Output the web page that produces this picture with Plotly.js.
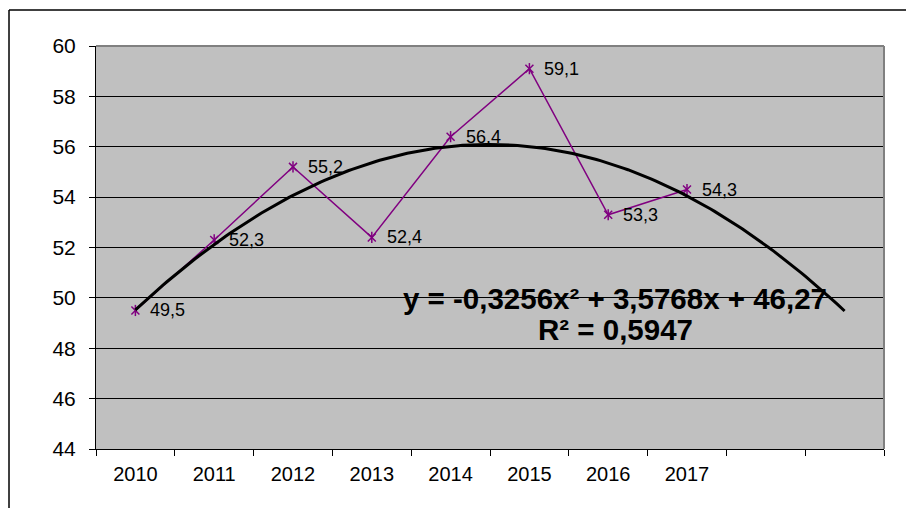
<!DOCTYPE html>
<html><head><meta charset="utf-8">
<script src="https://cdn.plot.ly/plotly-3.0.1.min.js"></script>
<style>html,body{margin:0;padding:0;background:#fff}#chart{width:906px;height:508px}</style>
</head><body><div id="chart"></div>
<script>
const years = ['2010','2011','2012','2013','2014','2015','2016','2017'];
const values = [49.5, 52.3, 55.2, 52.4, 56.4, 59.1, 53.3, 54.3];
const labels = ['49,5','52,3','55,2','52,4','56,4','59,1','53,3','54,3'];
// polynomial trendline coefficients shown on the chart (a x^2 + b x + c), forecast 2 periods forward
const trendCoef = [-0.3256, 3.5768, 46.27];
const forwardPeriods = 2;
const equationLine = 'y = -0,3256x² + 3,5768x + 46,27';
const r2Line = 'R² = 0,5947';

const FONT = 'Liberation Sans, Arial';
const xIdx = years.map((_, i) => i + 1);
const nCat = years.length + forwardPeriods;
const tx = [], ty = [];
for (let k = 0; k <= 180; k++) {
  const x = 1 + (nCat - 1) * k / 180;
  tx.push(x);
  ty.push(trendCoef[0]*x*x + trendCoef[1]*x + trendCoef[2]);
}
const boundaries = [];
for (let i = 0; i <= nCat; i++) boundaries.push(i + 0.5);

const data = [
  {x: xIdx, y: values, type: 'scatter', mode: 'lines+markers',
   line: {color: '#800080', width: 1.5},
   marker: {symbol: 'x-thin-open', size: 8, color: '#800080', line: {color: '#800080', width: 1.5}},
   cliponaxis: false, hoverinfo: 'skip'},
  {x: xIdx, y: values, type: 'scatter', mode: 'markers',
   marker: {symbol: 'line-ns-open', size: 8, color: '#800080', line: {color: '#800080', width: 1.5}},
   cliponaxis: false, hoverinfo: 'skip'},
  {x: tx, y: ty, type: 'scatter', mode: 'lines',
   line: {color: '#000', width: 3}, hoverinfo: 'skip'}
];

const L = 96, T = 46, W = 788, H = 403;
const annotations = values.map((v, i) => ({
  x: xIdx[i], y: v, xref: 'x', yref: 'y', text: labels[i],
  showarrow: false, xanchor: 'left', yanchor: 'middle', xshift: 13,
  font: {family: FONT, size: 18, color: '#000'}
}));
annotations.push(
  {x: (615 - L) / W, y: 1 - (298 - T) / H, xref: 'paper', yref: 'paper', text: equationLine,
   showarrow: false, xanchor: 'center', yanchor: 'middle',
   font: {family: FONT, size: 29.5, color: '#000', weight: 'bold'}},
  {x: (615 - L) / W, y: 1 - (329 - T) / H, xref: 'paper', yref: 'paper', text: r2Line,
   showarrow: false, xanchor: 'center', yanchor: 'middle',
   font: {family: FONT, size: 29.5, color: '#000', weight: 'bold'}}
);

const layout = {
  width: 906, height: 508,
  margin: {l: L, r: 906 - L - W, t: T, b: 508 - T - H},
  paper_bgcolor: '#fff', plot_bgcolor: '#c0c0c0',
  showlegend: false,
  font: {family: FONT, color: '#000'},
  xaxis: {
    range: [0.5, nCat + 0.5], tickvals: xIdx, ticktext: years,
    ticks: '', showgrid: false, zeroline: false,
    showline: true, linecolor: '#000', linewidth: 1,
    tickfont: {size: 20, family: FONT},
    ticklabelstandoff: 7,
    minor: {tickvals: boundaries, ticks: 'outside', ticklen: 6, tickcolor: '#000', tickwidth: 1, showgrid: false},
    fixedrange: true
  },
  yaxis: {
    range: [44, 60], dtick: 2, tick0: 44,
    ticks: 'outside', ticklen: 6, tickcolor: '#000', tickwidth: 1,
    showgrid: true, gridcolor: '#000', gridwidth: 1,
    zeroline: false, showline: true, linecolor: '#000', linewidth: 1,
    tickfont: {size: 21, family: FONT},
    ticklabelstandoff: 9,
    fixedrange: true
  },
  shapes: [
    {type: 'line', xref: 'paper', yref: 'paper', x0: 0, x1: 1, y0: 1, y1: 1, line: {color: '#808080', width: 2}},
    {type: 'line', xref: 'paper', yref: 'paper', x0: 1, x1: 1, y0: 0, y1: 1, line: {color: '#808080', width: 2}},
    {type: 'line', xref: 'paper', yref: 'paper', x0: -0.1104, x1: 1.05, y0: 1.0893, y1: 1.0893, line: {color: '#000', width: 1.5}},
    {type: 'line', xref: 'paper', yref: 'paper', x0: -0.1104, x1: -0.1104, y0: 1.0893, y1: -0.2, line: {color: '#000', width: 1.5}}
  ],
  annotations: annotations
};
Plotly.newPlot('chart', data, layout, {staticPlot: true, displayModeBar: false});
</script>
</body></html>
